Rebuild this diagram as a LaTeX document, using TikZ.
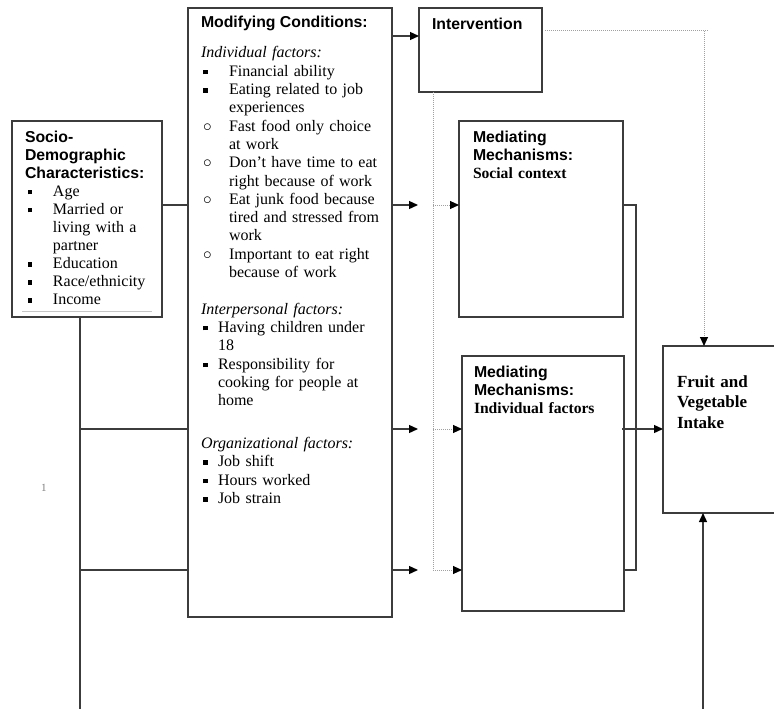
\documentclass[tikz,border=0pt]{standalone}
\usepackage{fontspec}
\setmainfont{Liberation Serif}
\setsansfont{Liberation Sans}
\usetikzlibrary{arrows.meta,calc}
\definecolor{linec}{HTML}{3C3C3C}
\definecolor{dotc}{HTML}{A0A0A0}
\newcommand\sqb{\rule[2pt]{4.5pt}{4.5pt}}
\newcommand\cib{$\circ$}
\newcommand\hd{\fontsize{15.8}{18.3}\selectfont\sffamily\bfseries}
\begin{document}
\begin{tikzpicture}[x=1pt,y=-1pt,
  box/.style={draw=linec,line width=1.3pt,inner sep=0pt,outer sep=0pt,anchor=north west,fill=white},
  conn/.style={draw=linec,line width=1.3pt},
  arr/.style={conn,-{Triangle[length=9pt,width=8pt,color=black]}},
  dot/.style={draw=dotc,line width=1pt,dash pattern=on 1pt off 1pt},
  dotarr/.style={dot,-{Triangle[length=9pt,width=8pt,color=black]}},
  txt/.style={anchor=base west,inner sep=0pt,outer sep=0pt,align=left},
  ser/.style={font=\fontsize{16}{18.3}\selectfont}]
\useasboundingbox (0,0) rectangle (774,709);

% level coordinates
\coordinate (L1) at (0,36);
\coordinate (L2) at (0,205);
\coordinate (L3) at (0,429);
\coordinate (L4) at (0,570);
\coordinate (trunkbot) at (80,709);
\coordinate (dv) at (433,0);
\coordinate (rv) at (636,0);
\coordinate (dstart) at (545,31);
\coordinate (dcorner) at (704,31);
\coordinate (upbot) at (703,709);
\coordinate (a2) at (418,205);
\coordinate (a3) at (418,429);
\coordinate (a4) at (418,570);

% boxes
\node[box,minimum width=150pt,minimum height=196pt] (socio) at (12,121) {};
\node[box,minimum width=204pt,minimum height=609pt] (modif) at (188,8) {};
\node[box,minimum width=123pt,minimum height=84pt] (interv) at (419,8) {};
\node[box,minimum width=164pt,minimum height=196pt] (medsoc) at (459,121) {};
\node[box,minimum width=162pt,minimum height=255pt] (medind) at (462,356) {};
\node[box,minimum width=117pt,minimum height=167pt] (fruit) at (663,346) {};

% gray rule in socio box
\draw[gray!45,line width=0.8pt] ($(socio.south west)+(10,-6)$) -- ($(socio.south east)+(-10,-6)$);

% texts
\node[txt,text width=140pt,font=\fontsize{16}{18.1}\selectfont] (sociotxt) at (25,142) {%
{\hd Socio-}\\
{\hd Demographic}\\
{\hd Characteristics:}\\
\hspace*{3pt}\makebox[25pt][l]{\sqb}Age\\
\hspace*{3pt}\makebox[25pt][l]{\sqb}Married or\\
\hspace*{28pt}living with a\\
\hspace*{28pt}partner\\
\hspace*{3pt}\makebox[25pt][l]{\sqb}Education\\
\hspace*{3pt}\makebox[25pt][l]{\sqb}Race/ethnicity\\
\hspace*{3pt}\makebox[25pt][l]{\sqb}Income};

\node[txt,font=\hd] (modifhd) at (201,28) {Modifying Conditions:};

\node[txt,ser,text width=185pt] (modiftxt) at (201,58) {%
\textit{Individual factors:}\\
\hspace*{2pt}\makebox[26pt][l]{\sqb}Financial ability\\
\hspace*{2pt}\makebox[26pt][l]{\sqb}Eating related to job\\
\hspace*{28pt}experiences\\
\hspace*{2pt}\makebox[26pt][l]{\cib}Fast food only choice\\
\hspace*{28pt}at work\\
\hspace*{2pt}\makebox[26pt][l]{\cib}Don’t have time to eat\\
\hspace*{28pt}right because of work\\
\hspace*{2pt}\makebox[26pt][l]{\cib}Eat junk food because\\
\hspace*{28pt}tired and stressed from\\
\hspace*{28pt}work\\
\hspace*{2pt}\makebox[26pt][l]{\cib}Important to eat right\\
\hspace*{28pt}because of work\\[18.3pt]
\textit{Interpersonal factors:}\\
\hspace*{2pt}\makebox[15pt][l]{\sqb}Having children under\\
\hspace*{17pt}18\\
\hspace*{2pt}\makebox[15pt][l]{\sqb}Responsibility for\\
\hspace*{17pt}cooking for people at\\
\hspace*{17pt}home\\[24.7pt]
\textit{Organizational factors:}\\
\hspace*{2pt}\makebox[15pt][l]{\sqb}Job shift\\
\hspace*{2pt}\makebox[15pt][l]{\sqb}Hours worked\\
\hspace*{2pt}\makebox[15pt][l]{\sqb}Job strain};

\node[txt,font=\hd] (intervtxt) at (432,30) {Intervention};

\node[txt,text width=140pt,font=\fontsize{15.8}{18}\selectfont] (medsoctxt) at (473,142) {%
{\hd Mediating}\\
{\hd Mechanisms:}\\
{\fontsize{15.6}{18}\selectfont\bfseries Social context}};

\node[txt,text width=140pt,font=\fontsize{15.8}{18}\selectfont] (medindtxt) at (474,377) {%
{\hd Mediating}\\
{\hd Mechanisms:}\\
{\fontsize{15.6}{18}\selectfont\bfseries Individual factors}};

\node[txt,text width=95pt,font=\fontsize{17}{20.5}\selectfont\bfseries] (fruittxt) at (677,387) {%
Fruit and\\
Vegetable\\
Intake};

\node[txt,font=\fontsize{11}{13}\selectfont,text=gray] (pagenum) at (41,491) {1};

% connectors
\draw[conn] (socio.east |- L2) -- (modif.west |- L2);
\draw[conn] (socio.south -| trunkbot) -- (trunkbot);
\draw[conn] (trunkbot |- L3) -- (modif.west |- L3);
\draw[conn] (trunkbot |- L4) -- (modif.west |- L4);

\draw[arr] (modif.east |- L1) -- (interv.west |- L1);
\draw[arr] (modif.east |- L2) -- (a2);
\draw[arr] (modif.east |- L3) -- (a3);
\draw[arr] (modif.east |- L4) -- (a4);

\draw[dot] (interv.south -| dv) -- (dv |- L4);
\draw[dotarr] (dv |- L2) -- (medsoc.west |- L2);
\draw[dotarr] (dv |- L3) -- (medind.west |- L3);
\draw[dotarr] (dv |- L4) -- (medind.west |- L4);

\draw[dot] (dstart) -- ($(dcorner)+(4,0)$);
\draw[dotarr] (dcorner) -- (fruit.north -| dcorner);

\draw[conn] (medsoc.east |- L2) -- (rv |- L2) -- (rv |- L4) -- (medind.east |- L4);
\draw[arr] ($(medind.east |- L3)+(-2,0)$) -- (fruit.west |- L3);
\draw[arr] (upbot) -- (fruit.south -| upbot);
\end{tikzpicture}
\end{document}
